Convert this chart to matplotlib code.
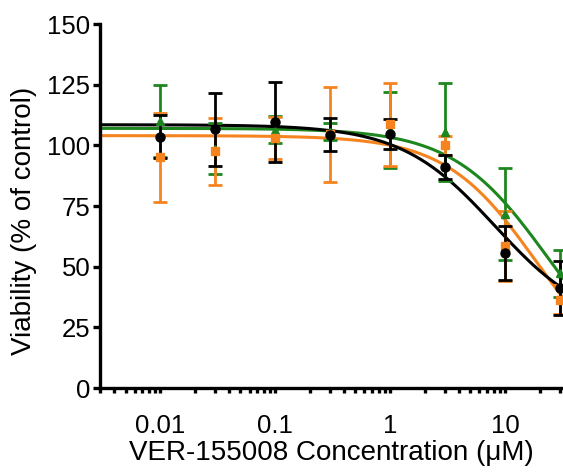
import matplotlib
matplotlib.use("Agg")
import matplotlib.pyplot as plt
import numpy as np
from matplotlib.ticker import FixedLocator, LogLocator, NullFormatter

plt.rcParams["font.family"] = ["Liberation Sans", "DejaVu Sans"]

# concentrations (uM)
conc = [0.01, 0.03, 0.1, 0.3, 1, 3, 10, 30]

green_mean = [110, 98.5, 106.5, 105.5, 106.3, 105.5, 71.6, 47.2]
green_sd = [15, 10.5, 5.4, 3.5, 15.8, 20, 19, 9.6]

orange_mean = [95, 97.6, 103, 104.5, 108.6, 100, 58.5, 36.4]
orange_sd = [18.3, 13.8, 8.5, 19.6, 17, 4, 14.5, 6]

black_mean = [103.6, 106.6, 109.7, 104.4, 104.8, 91.1, 55.6, 41.2]
black_sd = [9, 15, 16.5, 6.7, 6.2, 5, 11.2, 11]

# 4PL fit parameters: bottom, top, IC50, hill
green_fit = (0, 107, 23.8, 1.05)
orange_fit = (0, 104, 18.8, 1.1)
black_fit = (25, 108.5, 8.2, 1.06)

series = [
    ("#1e861e", "^", 6, green_mean, green_sd, green_fit),
    ("#f5841f", "s", 5.5, orange_mean, orange_sd, orange_fit),
    ("black", "o", 6.5, black_mean, black_sd, black_fit),
]

fig = plt.figure(figsize=(5.63, 4.72), dpi=100)
ax = fig.add_axes([100 / 563, 1 - 388 / 472, 1 - 100 / 563, (388 - 24) / 472])

xs = np.logspace(np.log10(0.003), np.log10(32), 300)
for color, marker, ms, mean, sd, fit in series:
    bottom, top, ic50, hill = fit
    ax.plot(xs, bottom + (top - bottom) / (1 + (xs / ic50) ** hill),
            color=color, lw=2.2, zorder=2)
    ax.errorbar(conc, mean, yerr=sd, fmt=marker, color=color, ms=ms,
                elinewidth=2, capsize=5, capthick=2, zorder=3, clip_on=False)

ax.set_xscale("log")
ax.set_xlim(0.003, 32)
ax.set_ylim(0, 150)
ax.set_yticks([0, 25, 50, 75, 100, 125, 150])
ax.xaxis.set_major_locator(FixedLocator([0.01, 0.1, 1, 10]))
ax.set_xticklabels(["0.01", "0.1", "1", "10"])
ax.xaxis.set_minor_locator(LogLocator(base=10, subs=np.arange(2, 10)))
ax.xaxis.set_minor_formatter(NullFormatter())

for s in ["top", "right"]:
    ax.spines[s].set_visible(False)
for s in ["left", "bottom"]:
    ax.spines[s].set_linewidth(2.4)

ax.tick_params(axis="both", which="both", direction="out", width=2.4,
               labelsize=18.5, colors="black")
ax.tick_params(axis="x", which="both", length=3.5, pad=15)
ax.tick_params(axis="y", length=5, pad=2)

ax.set_xlabel("VER-155008 Concentration (μM)", fontsize=20, labelpad=2)
ax.set_ylabel("Viability (% of control)", fontsize=20)
ax.yaxis.set_label_coords(-0.135, 0.46)

fig.savefig("out.png", dpi=100)
